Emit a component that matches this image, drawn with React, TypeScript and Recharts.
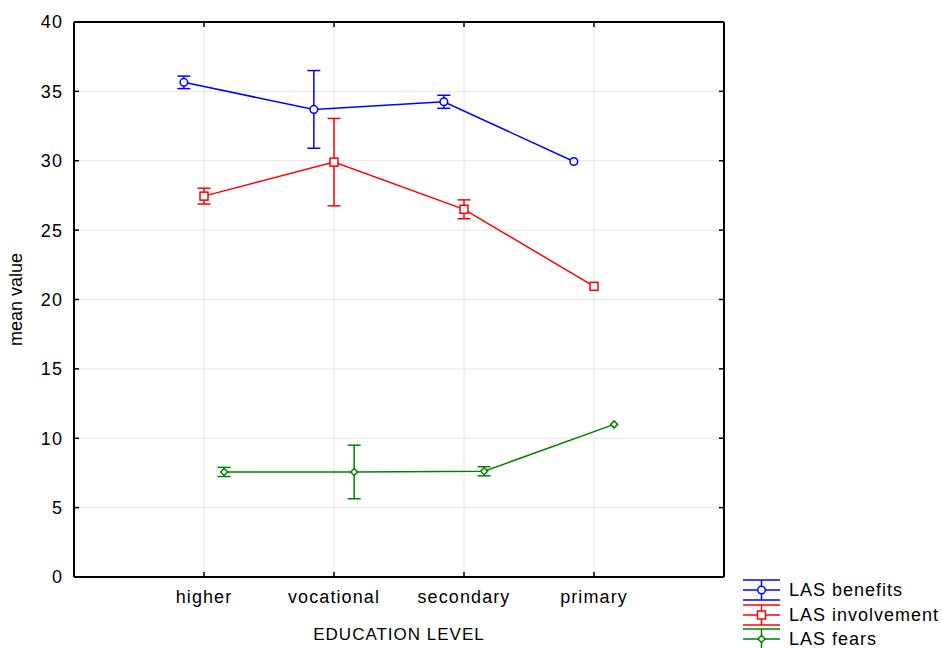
import React from 'react'
import {
  ComposedChart, Line, ErrorBar, XAxis, YAxis, CartesianGrid, Legend,
} from 'recharts'

const CATEGORIES = ['higher', 'vocational', 'secondary', 'primary']
const Y_TICKS = [0, 5, 10, 15, 20, 25, 30, 35, 40]

const BENEFITS = [35.65, 33.7, 34.25, 29.95]
const BENEFITS_ERR = [0.45, 2.8, 0.47, null]
const INVOLVEMENT = [27.45, 29.9, 26.5, 20.95]
const INVOLVEMENT_ERR = [0.57, 3.15, 0.68, null]
const FEARS = [7.57, 7.57, 7.62, 11.0]
const FEARS_ERR = [0.33, 1.93, 0.33, null]

const FONT = '"Liberation Sans", Arial, sans-serif'
const SHIFT = 0.155

type Pt = { x: number; y: number; err: number | null }

const build = (vals: number[], errs: (number | null)[], off: number): Pt[] =>
  vals.map((v, i) => ({ x: i + 1 + off, y: v, err: errs[i] }))

const Circle = ({ cx, cy, stroke }: any) =>
  cx == null ? null : <circle cx={cx} cy={cy} r={3.8} fill="#fff" stroke={stroke} strokeWidth={1.5} />

const Square = ({ cx, cy, stroke }: any) =>
  cx == null ? null : <rect x={cx - 4} y={cy - 4} width={8} height={8} fill="#fff" stroke={stroke} strokeWidth={1.5} />

const Diamond = ({ cx, cy, stroke }: any) =>
  cx == null ? null : (
    <path d={`M${cx},${cy - 3.5}L${cx + 3.5},${cy}L${cx},${cy + 3.5}L${cx - 3.5},${cy}Z`} fill="#fff" stroke={stroke} strokeWidth={1.5} />
  )

const SERIES = [
  { name: 'LAS benefits', color: '#0000ff', data: build(BENEFITS, BENEFITS_ERR, -SHIFT), Dot: Circle },
  { name: 'LAS involvement', color: '#ff0000', data: build(INVOLVEMENT, INVOLVEMENT_ERR, 0), Dot: Square },
  { name: 'LAS fears', color: '#008000', data: build(FEARS, FEARS_ERR, SHIFT), Dot: Diamond },
]

function LegendBox() {
  return (
    <div style={{ fontFamily: FONT, fontSize: 18, letterSpacing: 1, color: '#000' }}>
      {SERIES.map((s) => {
        const D = s.Dot
        return (
          <div key={s.name} style={{ display: 'flex', alignItems: 'center', height: 24.5 }}>
            <svg width={37} height={22} style={{ display: 'block' }}>
              <line x1={0} x2={37} y1={1} y2={1} stroke={s.color} strokeWidth={1.5} />
              <line x1={0} x2={37} y1={11} y2={11} stroke={s.color} strokeWidth={1.5} />
              <line x1={0} x2={37} y1={21} y2={21} stroke={s.color} strokeWidth={1.5} />
              <line x1={18.5} x2={18.5} y1={1} y2={21} stroke={s.color} strokeWidth={1.5} />
              <D cx={18.5} cy={11} stroke={s.color} />
            </svg>
            <span style={{ marginLeft: 9, lineHeight: '22px' }}>{s.name}</span>
          </div>
        )
      })}
    </div>
  )
}

const tickStyle = { fontSize: 18, fill: '#000', fontFamily: FONT, letterSpacing: 1.1 }
const frame = { stroke: '#000', strokeWidth: 2 }
const tickMark = { stroke: '#000', strokeWidth: 1.5 }

export default function App() {
  return (
    <div style={{ position: 'absolute', left: 0, top: 0, background: '#fff' }}>
      <ComposedChart width={943} height={648} margin={{ top: 21, right: 218, bottom: 0, left: 0 }}>
        <CartesianGrid stroke="#e6e6e6" strokeWidth={1} />
        <XAxis
          type="number"
          dataKey="x"
          domain={[0, 5]}
          ticks={[1, 2, 3, 4]}
          allowDataOverflow
          interval={0}
          height={71}
          tickFormatter={(v: number) => CATEGORIES[v - 1] ?? ''}
          tick={tickStyle}
          tickSize={-5}
          tickMargin={18}
          tickLine={tickMark}
          axisLine={frame}
          label={{ value: 'EDUCATION LEVEL', position: 'insideBottom', offset: 8, style: { fontSize: 17, letterSpacing: 1, fill: '#000', fontFamily: FONT } }}
        />
        <XAxis
          xAxisId="top"
          orientation="top"
          type="number"
          dataKey="x"
          domain={[0, 5]}
          ticks={[1, 2, 3, 4]}
          allowDataOverflow
          interval={0}
          height={1}
          tickFormatter={() => ''}
          tickSize={-5}
          tickLine={tickMark}
          axisLine={frame}
        />
        <YAxis
          type="number"
          domain={[0, 40]}
          ticks={Y_TICKS}
          allowDataOverflow
          interval={0}
          width={74}
          tick={tickStyle}
          tickSize={-5}
          tickMargin={16}
          tickLine={tickMark}
          axisLine={frame}
          label={{ value: 'mean value', angle: -90, position: 'insideLeft', offset: 16, style: { fontSize: 18, fill: '#000', fontFamily: FONT, textAnchor: 'middle' } }}
        />
        <YAxis
          yAxisId="right"
          orientation="right"
          type="number"
          domain={[0, 40]}
          ticks={Y_TICKS}
          allowDataOverflow
          interval={0}
          width={1}
          tickFormatter={() => ''}
          tickSize={-5}
          tickLine={tickMark}
          axisLine={frame}
        />
        {SERIES.map((s) => (
          <Line
            key={s.name}
            data={s.data}
            dataKey="y"
            name={s.name}
            stroke={s.color}
            strokeWidth={1.5}
            dot={<s.Dot stroke={s.color} />}
            activeDot={false}
            isAnimationActive={false}
          >
            <ErrorBar dataKey="err" direction="y" width={6.5} stroke={s.color} strokeWidth={1.5} />
          </Line>
        ))}
        {/* invisible carrier so the top / right frame axes get drawn */}
        <Line
          xAxisId="top"
          yAxisId="right"
          data={SERIES[1].data}
          dataKey="y"
          stroke="none"
          dot={false}
          activeDot={false}
          legendType="none"
          isAnimationActive={false}
        />
        <Legend
          layout="vertical"
          align="center"
          verticalAlign="middle"
          content={() => <LegendBox />}
          wrapperStyle={{ position: 'absolute', left: 743, top: 578, width: 200, height: 72 }}
        />
      </ComposedChart>
    </div>
  )
}
